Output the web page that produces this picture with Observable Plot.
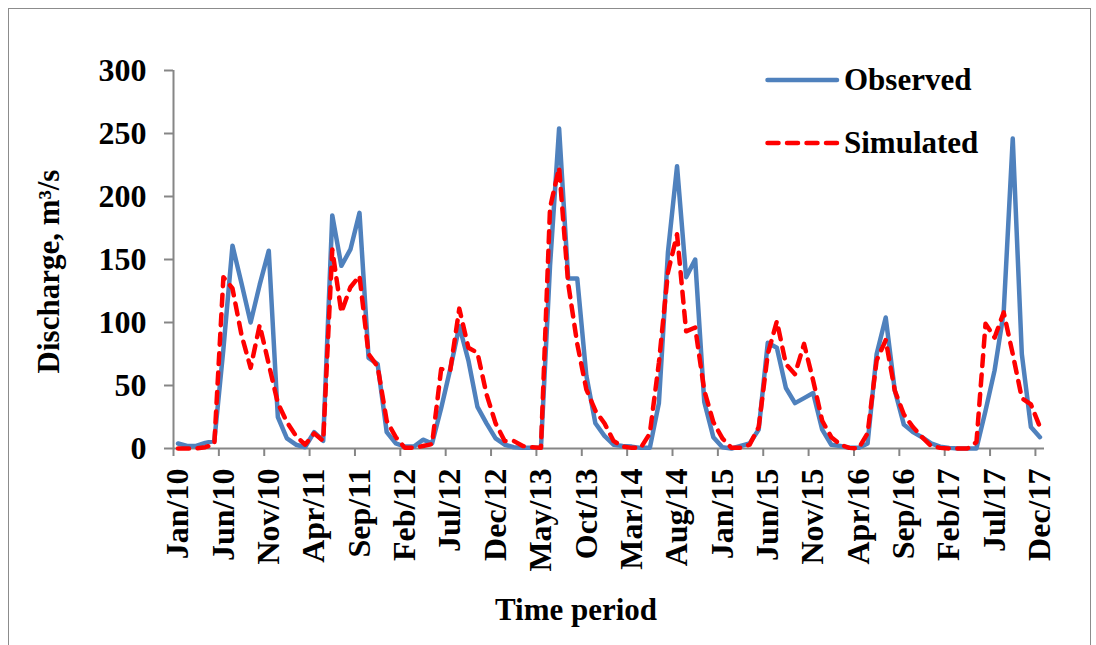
<!DOCTYPE html>
<html>
<head>
<meta charset="utf-8">
<script src="https://cdn.jsdelivr.net/npm/d3@7"></script>
<script src="https://cdn.jsdelivr.net/npm/@observablehq/plot@0.6"></script>
<style>
  html, body { margin: 0; padding: 0; background: #fff; }
  #wrap { position: relative; width: 1096px; height: 645px; overflow: hidden; }
  #border { position: absolute; left: 8px; top: 8px; width: 1083px; height: 660px; border: 1px solid #8c8c8c; box-sizing: border-box; }
  .leg { position: absolute; left: 765px; height: 32px; display: flex; align-items: center;
         font-family: "Liberation Serif", "Times New Roman", serif; font-weight: bold; font-size: 31px; color: #000; }
  .leg span { margin-left: 3px; }
</style>
</head>
<body>
<div id="wrap">
  <div id="border"></div>
  <div id="chart"></div>
  <div class="leg" style="top:64px"><svg width="76" height="10"><line x1="2.5" x2="72" y1="5" y2="5" stroke="#4F81BD" stroke-width="4.5" stroke-linecap="round"/></svg><span>Observed</span></div>
  <div class="leg" style="top:127px"><svg width="76" height="10"><line x1="2.5" x2="72" y1="5" y2="5" stroke="#FF0000" stroke-width="4.5" stroke-linecap="round" stroke-dasharray="11,8.5"/></svg><span>Simulated</span></div>
</div>
<script>
// Monthly categories: Jan 2010 ... Dec 2017 (96 months)
const months = d3.range(96);
const tickLabels = ["Jan/10","Jun/10","Nov/10","Apr/11","Sep/11","Feb/12","Jul/12","Dec/12",
  "May/13","Oct/13","Mar/14","Aug/14","Jan/15","Jun/15","Nov/15","Apr/16","Sep/16","Feb/17","Jul/17","Dec/17"];
const yTicks = [0, 50, 100, 150, 200, 250, 300];

const observed = [
  4, 2, 2, 4.5, 6, 79, 161, 131, 100, 130, 157, 25,
  8, 3, 1, 13, 6, 185, 145, 158, 187, 72, 67, 13,
  4, 1.5, 1.5, 7, 4, 32, 63, 97, 70, 33, 20, 8,
  3, 1, 0.5, 0.5, 0.5, 145, 254, 135, 135, 58, 20, 10,
  3, 2, 1.5, 0.5, 0.5, 36, 156, 224, 136, 150, 37, 9,
  1, 0, 2, 4, 15, 84, 80, 48, 36, 40, 44, 15,
  3, 2, 0.5, 0.5, 4, 75, 104, 46, 19, 13, 9, 4,
  1.5, 0.5, 0, 0, 0, 30, 62, 108, 246, 75, 17, 9
];
const simulated = [
  0, 0, 0, 1, 3.5, 136, 127, 90, 64, 98, 67, 36,
  21, 10, 3, 12, 6, 158, 108, 128, 137, 75, 65, 22,
  9, 0.5, 0.5, 2, 3.5, 63, 62, 111, 80, 76, 43, 20,
  6, 6, 2, 1, 0.5, 191, 223, 131, 83, 47, 30, 20,
  6, 1.5, 0.5, 0.5, 12, 68, 140, 170, 93, 96, 46, 21,
  8, 0.5, 0.5, 3, 17, 75, 101, 67, 59, 83, 54, 22,
  9, 3, 0.5, 0, 12, 70, 86, 46, 27, 17, 9, 2,
  0.5, 0, 0, 0, 5, 99, 88, 108, 75, 40, 35, 17
];

const data = months.map((m, i) => ({m, obs: observed[i], sim: simulated[i]}));
const axisGray = "#868686";
const font = "'Liberation Serif', 'Times New Roman', serif";

const chart = Plot.plot({
  width: 1096,
  height: 645,
  marginLeft: 173,
  marginRight: 52,
  marginTop: 70,
  marginBottom: 197,
  style: {fontFamily: font, fontWeight: "bold", background: "transparent", color: "#000"},
  x: {domain: [-0.5, 95.5]},
  y: {domain: [0, 300]},
  marks: [
    Plot.axisY({ticks: yTicks, tickSize: 9, tickPadding: 18, fontSize: 32, stroke: axisGray, strokeWidth: 2, fill: "#000", label: null}),
    Plot.axisX({ticks: d3.range(-0.5, 95, 5), tickSize: 8, tickFormat: () => "", stroke: axisGray, strokeWidth: 2, label: null}),
    Plot.axisX({ticks: d3.range(0, 96, 5), tickSize: 0, tickPadding: 20, tickRotate: -90, fontSize: 32, fill: "#000",
      tickFormat: d => tickLabels[Math.round(d / 5)], label: null}),
    Plot.ruleX([-0.5], {stroke: axisGray, strokeWidth: 2}),
    Plot.ruleY([0], {stroke: axisGray, strokeWidth: 2}),
    Plot.lineY(data, {x: "m", y: "obs", stroke: "#4F81BD", strokeWidth: 4.5, strokeLinejoin: "round", strokeLinecap: "round"}),
    Plot.lineY(data, {x: "m", y: "sim", stroke: "#FF0000", strokeWidth: 4.5, strokeDasharray: "11,8.5", strokeLinecap: "round", strokeLinejoin: "round"}),
    Plot.text(["Time period"], {frameAnchor: "bottom", textAnchor: "middle", lineAnchor: "middle", dx: -33, dy: 162, fontSize: 31, fill: "#000"}),
    Plot.text(["Discharge, m³/s"], {frameAnchor: "left", textAnchor: "middle", lineAnchor: "middle", rotate: -90, dx: -124, dy: 12, fontSize: 31, fill: "#000"})
  ]
});
chart.style.position = "absolute";
chart.style.left = "0px";
chart.style.top = "0px";
document.getElementById("chart").appendChild(chart);
</script>
</body>
</html>
